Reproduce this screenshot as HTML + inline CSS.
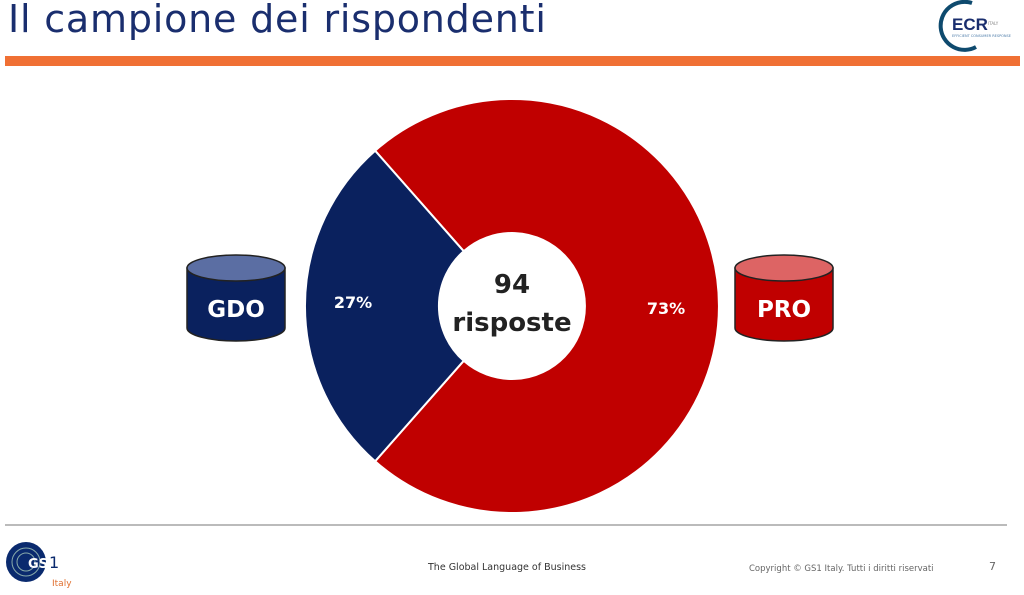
<!DOCTYPE html>
<html><head><meta charset="utf-8"><style>
body{margin:0;width:1024px;height:595px;background:#fff;overflow:hidden;font-family:"DejaVu Sans","Liberation Sans",sans-serif;position:relative}
.t{position:absolute;left:8px;top:-3px;font-size:38px;color:#1a2e6e;letter-spacing:0.8px;font-family:"DejaVu Sans",sans-serif}
</style></head><body>
<div class="t">Il campione dei rispondenti</div>
<svg width="1024" height="595" style="position:absolute;left:0;top:0" font-family="DejaVu Sans, sans-serif">
<path d="M972 3 A24 24 0 1 0 976 47" fill="none" stroke="#0e4a6e" stroke-width="4"/>
<text x="952" y="30" font-size="17" font-weight="bold" fill="#1a2e6e" font-family="Liberation Sans">ECR</text>
<text x="988" y="25" font-size="4" fill="#888">ITALY</text>
<text x="952" y="37" font-size="3.5" fill="#4a7aa8">EFFICIENT CONSUMER RESPONSE</text>
<rect x="5" y="56" width="1015" height="10" fill="#f07034"/>
<path d="M375.1,150.7 A207 207 0 1 1 375.1,461.3 L463.7,360.8 A73 73 0 1 0 463.7,251.2 Z" fill="#c00000" stroke="#fff" stroke-width="2"/>
<path d="M375.1,150.7 A207 207 0 0 0 375.1,461.3 L463.7,360.8 A73 73 0 0 1 463.7,251.2 Z" fill="#0a215e" stroke="#fff" stroke-width="2"/>
<text x="512" y="293" font-size="26" font-weight="bold" text-anchor="middle" fill="#222">94</text>
<text x="512" y="331" font-size="26" font-weight="bold" text-anchor="middle" fill="#222">risposte</text>
<text x="353" y="308" font-size="16" font-weight="bold" text-anchor="middle" fill="#fff">27%</text>
<text x="666" y="314" font-size="16" font-weight="bold" text-anchor="middle" fill="#fff">73%</text>
<g>
<path d="M187 268 V328 A49 13 0 0 0 285 328 V268 Z" fill="#0a215e" stroke="#222" stroke-width="1.5"/>
<ellipse cx="236" cy="268" rx="49" ry="13" fill="#5b6ea3" stroke="#222" stroke-width="1.5"/>
<text x="236" y="317" font-size="23" font-weight="bold" text-anchor="middle" fill="#fff">GDO</text>
</g>
<g>
<path d="M735 268 V328 A49 13 0 0 0 833 328 V268 Z" fill="#c00000" stroke="#222" stroke-width="1.5"/>
<ellipse cx="784" cy="268" rx="49" ry="13" fill="#dd6464" stroke="#222" stroke-width="1.5"/>
<text x="784" y="317" font-size="23" font-weight="bold" text-anchor="middle" fill="#fff">PRO</text>
</g>
<rect x="5" y="524" width="1002" height="2" fill="#bbb"/>
<circle cx="26" cy="562" r="20" fill="#0a2a6e"/>
<circle cx="26" cy="562" r="14" fill="none" stroke="#8aa" stroke-width="1"/>
<circle cx="26" cy="562" r="9" fill="none" stroke="#8aa" stroke-width="1"/>
<text x="28" y="568" font-size="13" font-weight="bold" fill="#fff">GS</text>
<text x="49" y="568" font-size="16" fill="#0a2a6e">1</text>
<text x="52" y="586" font-size="9" fill="#e07030">Italy</text>
<text x="428" y="570" font-size="9.5" fill="#333">The Global Language of Business</text>
<text x="749" y="571" font-size="8.5" fill="#666">Copyright © GS1 Italy. Tutti i diritti riservati</text>
<text x="989" y="570" font-size="11" fill="#666">7</text>
</svg>
</body></html>
